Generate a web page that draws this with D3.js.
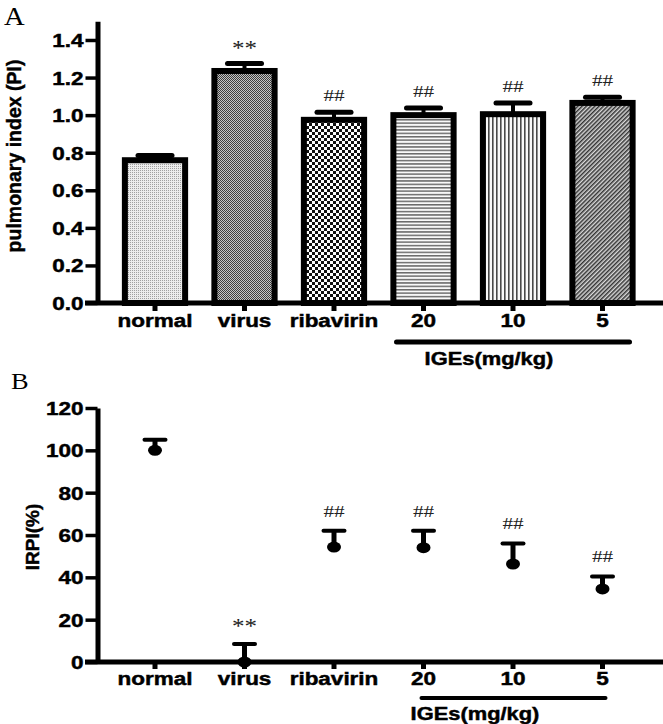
<!DOCTYPE html>
<html>
<head>
<meta charset="utf-8">
<script src="https://cdn.jsdelivr.net/npm/d3@7"></script>
<style>
  body { margin: 0; background: #fff; }
  text { font-family: "Liberation Sans", Arial, sans-serif; font-weight: bold; stroke: #000; stroke-width: 0.45px; }
  .serif { font-family: "Liberation Serif", "Times New Roman", serif; font-weight: normal; stroke: none; }
</style>
</head>
<body>
<div id="chart"></div>
<script>
// groups and values
let groups = ["normal", "virus", "ribavirin", "20", "10", "5"];
let piMean = [0.76, 1.235, 0.975, 1.0, 1.005, 1.065];
let piErr = [0.025, 0.04, 0.04, 0.038, 0.06, 0.03];
let irpiMean = [100, 0, 54.3, 54, 46.3, 34.5];
let irpiErr = [5, 8.5, 7.7, 8, 9.7, 5.9];
let marks = ["", "**", "##", "##", "##", "##"];
let piTicks = [0, 0.2, 0.4, 0.6, 0.8, 1.0, 1.2, 1.4];
let irpiTicks = [0, 20, 40, 60, 80, 100, 120];
let doseGroups = ["20", "10", "5"];

let W = 663, H = 724;
let sx = 1.25; // the original figure is stretched sideways

let svg = d3.select("#chart").append("svg")
    .attr("width", W)
    .attr("height", H);

// fill patterns for each bar
let defs = svg.append("defs");
function pat(id, w, h) {
    return defs.append("pattern").attr("id", id)
        .attr("patternUnits", "userSpaceOnUse")
        .attr("width", w).attr("height", h);
}
let p0 = pat("p0", 2, 2);
p0.append("rect").attr("width", 2).attr("height", 2).attr("fill", "#ececec");
p0.append("rect").attr("width", 1).attr("height", 1).attr("fill", "#a0a0a0");
let p1 = pat("p1", 2, 2);
p1.append("rect").attr("width", 2).attr("height", 2).attr("fill", "#c4c4c4");
p1.append("rect").attr("width", 1).attr("height", 1).attr("fill", "#3c3c3c");
p1.append("rect").attr("x", 1).attr("y", 1).attr("width", 1).attr("height", 1).attr("fill", "#3c3c3c");
let p2 = pat("p2", 6, 6);
p2.append("rect").attr("width", 6).attr("height", 6).attr("fill", "#fff");
p2.append("rect").attr("width", 3).attr("height", 3).attr("fill", "#111");
p2.append("rect").attr("x", 3).attr("y", 3).attr("width", 3).attr("height", 3).attr("fill", "#111");
let p3 = pat("p3", 4, 3.4);
p3.append("rect").attr("width", 4).attr("height", 3.4).attr("fill", "#fafafa");
p3.append("rect").attr("width", 4).attr("height", 1.5).attr("fill", "#6a6a6a");
let p4 = pat("p4", 4, 4);
p4.append("rect").attr("width", 4).attr("height", 4).attr("fill", "#fafafa");
p4.append("rect").attr("width", 1.6).attr("height", 4).attr("fill", "#4a4a4a");
let p5 = pat("p5", 3, 3).attr("patternTransform", "rotate(45)");
p5.append("rect").attr("width", 3).attr("height", 3).attr("fill", "#d8d8d8");
p5.append("rect").attr("width", 1.5).attr("height", 3).attr("fill", "#333");
let fills = ["p0", "p1", "p2", "p3", "p4", "p5"];

function stretchText(sel, x, y) {
    sel.attr("transform", `translate(${x},${y}) scale(${sx},1)`);
}

// shared x positions
let x = d3.scaleBand()
    .domain(groups)
    .range([110.25, 647.25])
    .paddingInner(0.26)
    .paddingOuter(0.13);
let xc = d => x(d) + x.bandwidth() / 2;

function xAxisBase(g, y0, tickLen, labelY) {
    g.append("line")
        .attr("x1", 85).attr("x2", 663)
        .attr("y1", y0).attr("y2", y0)
        .attr("stroke", "#000").attr("stroke-width", 5);
    g.selectAll(".xt").data(groups).enter()
        .append("line")
        .attr("x1", d => xc(d)).attr("x2", d => xc(d))
        .attr("y1", y0).attr("y2", y0 + tickLen)
        .attr("stroke", "#000").attr("stroke-width", 5);
    g.selectAll(".xl").data(groups).enter()
        .append("text")
        .attr("text-anchor", "middle")
        .attr("font-size", 18)
        .text(d => d)
        .each(function(d) { stretchText(d3.select(this), xc(d), labelY); });
}

function yAxisStyle(g) {
    g.select(".domain").attr("stroke-width", 5);
    g.selectAll(".tick line").attr("stroke-width", 3.5);
    g.selectAll(".tick text")
        .attr("x", null).attr("dy", "0.36em")
        .attr("font-size", 18)
        .attr("font-family", "Liberation Sans, Arial, sans-serif")
        .attr("font-weight", "bold")
        .attr("transform", `translate(-14,0) scale(${sx},1)`);
}

// ---------- panel A: bars ----------
let yA = d3.scaleLinear().domain([0, 1.5]).range([303, 21.2]);
let gA = svg.append("g");

gA.selectAll(".err").data(groups).enter()
    .append("line")
    .attr("x1", d => xc(d)).attr("x2", d => xc(d))
    .attr("y1", (d, i) => yA(piMean[i]))
    .attr("y2", (d, i) => yA(piMean[i] + piErr[i]))
    .attr("stroke", "#000").attr("stroke-width", 4);
gA.selectAll(".cap").data(groups).enter()
    .append("line")
    .attr("x1", d => xc(d) - 17).attr("x2", d => xc(d) + 17)
    .attr("y1", (d, i) => yA(piMean[i] + piErr[i]))
    .attr("y2", (d, i) => yA(piMean[i] + piErr[i]))
    .attr("stroke", "#000").attr("stroke-width", 5)
    .attr("stroke-linecap", "round");

gA.selectAll(".bar").data(groups).enter()
    .append("rect")
    .attr("x", d => x(d) + 3)
    .attr("width", x.bandwidth() - 6)
    .attr("y", (d, i) => yA(piMean[i]))
    .attr("height", (d, i) => yA(0) - yA(piMean[i]))
    .attr("fill", (d, i) => `url(#${fills[i]})`)
    .attr("stroke", "#000").attr("stroke-width", 6);

gA.selectAll(".sig").data(groups).enter()
    .append("text")
    .attr("class", "serif")
    .attr("text-anchor", "middle")
    .attr("font-size", (d, i) => marks[i] == "**" ? 20 : 17)
    .attr("fill", "#222")
    .text((d, i) => marks[i])
    .each(function(d, i) {
        stretchText(d3.select(this), xc(d), yA(piMean[i] + piErr[i]) - (marks[i] == "**" ? 8 : 11));
    });

xAxisBase(gA, 303, 8, 327);

gA.append("g")
    .attr("transform", "translate(97.5,0)")
    .call(d3.axisLeft(yA).tickValues(piTicks).tickFormat(d3.format(".1f")).tickSize(12).tickSizeOuter(0))
    .call(yAxisStyle);

gA.append("text")
    .attr("transform", "translate(21,156) rotate(-90)")
    .attr("text-anchor", "middle")
    .attr("font-size", 19.5)
    .text("pulmonary index (PI)");

gA.append("line")
    .attr("x1", xc(doseGroups[0]) - 27).attr("x2", xc(doseGroups[2]) + 27)
    .attr("y1", 342).attr("y2", 342)
    .attr("stroke", "#000").attr("stroke-width", 5).attr("stroke-linecap", "round");
gA.append("text")
    .attr("text-anchor", "middle").attr("font-size", 17.5)
    .text("IGEs(mg/kg)")
    .call(s => stretchText(s, 489, 365));

svg.append("text").attr("class", "serif")
    .attr("font-size", 26)
    .text("A")
    .call(s => s.attr("transform", "translate(4,25) scale(1.1,1)"));

// ---------- panel B: points ----------
let yB = d3.scaleLinear().domain([0, 120]).range([662, 408]);
let gB = svg.append("g");

xAxisBase(gB, 662, 7, 685);

gB.append("g")
    .attr("transform", "translate(97.5,0)")
    .call(d3.axisLeft(yB).tickValues(irpiTicks).tickSize(12).tickSizeOuter(0))
    .call(yAxisStyle);

gB.selectAll(".err").data(groups).enter()
    .append("line")
    .attr("x1", d => xc(d)).attr("x2", d => xc(d))
    .attr("y1", (d, i) => yB(irpiMean[i]))
    .attr("y2", (d, i) => yB(irpiMean[i] + irpiErr[i]))
    .attr("stroke", "#000").attr("stroke-width", 5);
gB.selectAll(".cap").data(groups).enter()
    .append("line")
    .attr("x1", d => xc(d) - 10.5).attr("x2", d => xc(d) + 10.5)
    .attr("y1", (d, i) => yB(irpiMean[i] + irpiErr[i]))
    .attr("y2", (d, i) => yB(irpiMean[i] + irpiErr[i]))
    .attr("stroke", "#000").attr("stroke-width", 4)
    .attr("stroke-linecap", "round");
gB.selectAll(".dot").data(groups).enter()
    .append("ellipse")
    .attr("cx", d => xc(d))
    .attr("cy", (d, i) => yB(irpiMean[i]))
    .attr("rx", 7).attr("ry", 5.5)
    .attr("fill", "#000");

gB.selectAll(".sig").data(groups).enter()
    .append("text")
    .attr("class", "serif")
    .attr("text-anchor", "middle")
    .attr("font-size", (d, i) => marks[i] == "**" ? 20 : 17)
    .attr("fill", "#222")
    .text((d, i) => marks[i])
    .each(function(d, i) {
        stretchText(d3.select(this), xc(d), yB(irpiMean[i] + irpiErr[i]) - (marks[i] == "**" ? 11 : 14));
    });

gB.append("text")
    .attr("transform", "translate(39,537) rotate(-90)")
    .attr("text-anchor", "middle")
    .attr("font-size", 19)
    .text("IRPI(%)");

gB.append("line")
    .attr("x1", xc(doseGroups[0]) - 2).attr("x2", xc(doseGroups[2]) + 3)
    .attr("y1", 698).attr("y2", 698)
    .attr("stroke", "#000").attr("stroke-width", 4).attr("stroke-linecap", "round");
gB.append("text")
    .attr("text-anchor", "middle").attr("font-size", 17.5)
    .text("IGEs(mg/kg)")
    .call(s => stretchText(s, 475, 720));

svg.append("text").attr("class", "serif")
    .attr("font-size", 24)
    .text("B")
    .call(s => s.attr("transform", "translate(11,389) scale(1.1,1)"));
</script>
</body>
</html>
